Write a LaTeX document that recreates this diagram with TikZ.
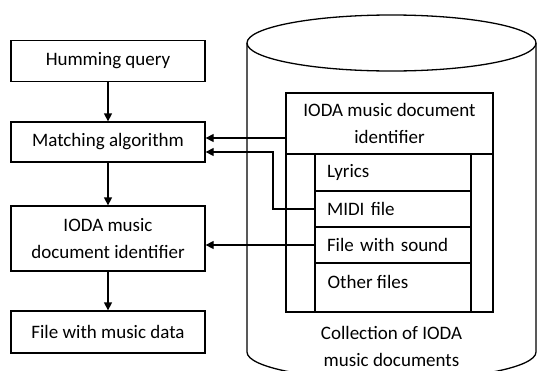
\documentclass[tikz,border=0pt]{standalone}
\usepackage{fontspec}
\setmainfont{Carlito}
\usepackage{tikz}
\usetikzlibrary{calc,arrows.meta}

\tikzset{
  box/.style={draw,line width=1.3pt,minimum width=194pt,align=center,inner sep=0pt},
  row/.style={draw,line width=1.3pt,minimum width=156pt,minimum height=36pt,text width=132pt,align=left,inner sep=0pt},
  arr/.style={line width=1.3pt,-{Triangle[length=8pt,width=8pt]}}
}

\begin{document}
\begin{tikzpicture}[x=1pt,y=-1pt,line width=1.3pt,font=\fontsize{19}{27}\selectfont]
\useasboundingbox (0,0) rectangle (537,370);

% left column
\node[box,minimum height=41pt] (hum) at (108,61) {Humming query};
\node[box,minimum height=40pt] (match) at (108,142) {Matching algorithm};
\node[box,minimum height=65pt] (ioda) at (108,238.5) {IODA music\\document identifier};
\node[box,minimum height=42pt] (file) at (108,332) {File with music data};

\draw[arr] (hum) -- (match);
\draw[arr] (match) -- (ioda);
\draw[arr] (ioda) -- (file);

% cylinder
\draw (247,43) -- (247,352) arc[start angle=180,end angle=0,x radius=144.5,y radius=28] -- (536,43);
\draw (391.5,43) ellipse [x radius=144.5,y radius=28];

% document inside the collection
\draw (286,93) rectangle (493,312);
\draw (315,154) rectangle (471,312);
\node[box,minimum width=207pt,minimum height=61pt] (hdr) at (389.5,123.5) {IODA music document\\identifier};
\node[row,minimum height=37pt] (lyr) at (393,172.5) {Lyrics};
\node[row] (midi) at (393,209) {MIDI file};
\node[row] (snd) at (393,245) {File with sound};
\node[anchor=west,inner sep=0pt] (oth) at (327,282) {Other files};

\node[align=center,inner sep=0pt] (coll) at (391.5,346) {Collection of IODA\\music documents};

% connectors
\draw[arr] (hdr.west |- 0,138) -- (match.east |- 0,138);
\draw[arr] (midi.west) -| (273,152) -- (match.east |- 0,152);
\draw[arr] (snd.west) -- (ioda.east |- snd.west);
\end{tikzpicture}
\end{document}
